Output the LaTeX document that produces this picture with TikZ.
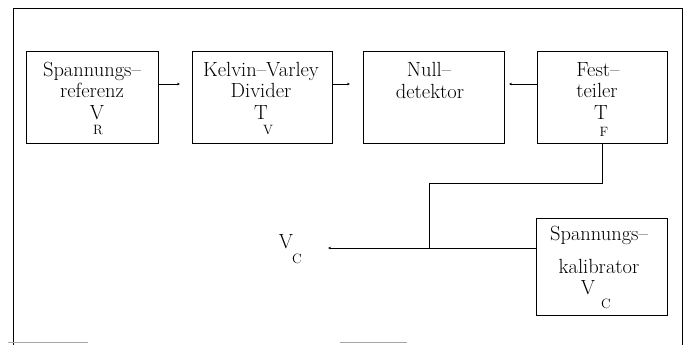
\documentclass[tikz,border=0pt]{standalone}
\usetikzlibrary{arrows.meta}
\begin{document}
\begin{tikzpicture}[x=1pt,y=-1pt]
\tikzset{
  blk/.style={draw, line width=0.8pt, inner sep=0pt},
  txt/.style={inner sep=0pt, anchor=base, font=\fontsize{20.5}{24}\selectfont},
  subtxt/.style={inner sep=0pt, anchor=base, font=\fontsize{13.5}{15}\selectfont},
  wire/.style={line width=0.8pt},
  tipline/.style={wire, -{Stealth[length=3pt,width=2.6pt]}},
  frameline/.style={line width=0.9pt}
}
\useasboundingbox (0,0) rectangle (686,345);

% outer frame
\draw[frameline] (13,345) -- (13,8) -- (682,8) -- (682,345);
\draw[line width=0.6pt, black!35] (8,342) -- (88,342);
\draw[line width=0.6pt, black!35] (340,342) -- (407,342);

% blocks
\node[blk, minimum width=132pt, minimum height=92pt] (ref) at (92,97) {};
\node[blk, minimum width=140pt, minimum height=92pt] (kvd) at (262,97) {};
\node[blk, minimum width=141pt, minimum height=92pt] (null) at (433.5,97) {};
\node[blk, minimum width=130pt, minimum height=92pt] (fest) at (602,97) {};
\node[blk, minimum width=131pt, minimum height=97pt] (kal) at (601.5,266.5) {};

% block texts
\node[txt] (refA) at (92,77) {Spannungs--};
\node[txt] (refB) at (92,98) {referenz};
\node[txt] (refC) at (97,119) {V};
\node[subtxt] (refD) at (98,135) {R};

\node[txt] (kvdA) at (261,77) {Kelvin--Varley};
\node[txt] (kvdB) at (261,98) {Divider};
\node[txt] (kvdC) at (261,119) {T};
\node[subtxt] (kvdD) at (268,135) {V};

\node[txt] (nullA) at (429,77) {Null--};
\node[txt] (nullB) at (430,99) {detektor};

\node[txt] (festA) at (598,77) {Fest--};
\node[txt] (festB) at (597,98) {teiler};
\node[txt] (festC) at (601,120) {T};
\node[subtxt] (festD) at (604,136) {F};

\node[txt] (kalA) at (599,240) {Spannungs--};
\node[txt] (kalB) at (599,273) {kalibrator};
\node[txt] (kalC) at (588,294) {V};
\node[subtxt] (kalD) at (606,308) {C};

% output terminal label
\node[txt] (vcA) at (286,248) {V};
\node[subtxt] (vcB) at (297,263) {C};

% signal arrows
\coordinate (a1) at (180,84);
\coordinate (a2) at (350,84);
\coordinate (a3) at (509,84);
\draw[tipline] (a1 -| ref.east) -- (a1);
\draw[tipline] (a2 -| kvd.east) -- (a2);
\draw[tipline] (a3 -| fest.west) -- (a3);

% wiring from the fixed divider to the calibrator line
\coordinate (bend) at (429,183);
\coordinate (junc) at (429,248);
\coordinate (term) at (328,248);
\draw[wire] (fest.south) |- (bend) -- (junc);
\draw[tipline] (junc -| kal.west) -- (term);
\end{tikzpicture}
\end{document}
